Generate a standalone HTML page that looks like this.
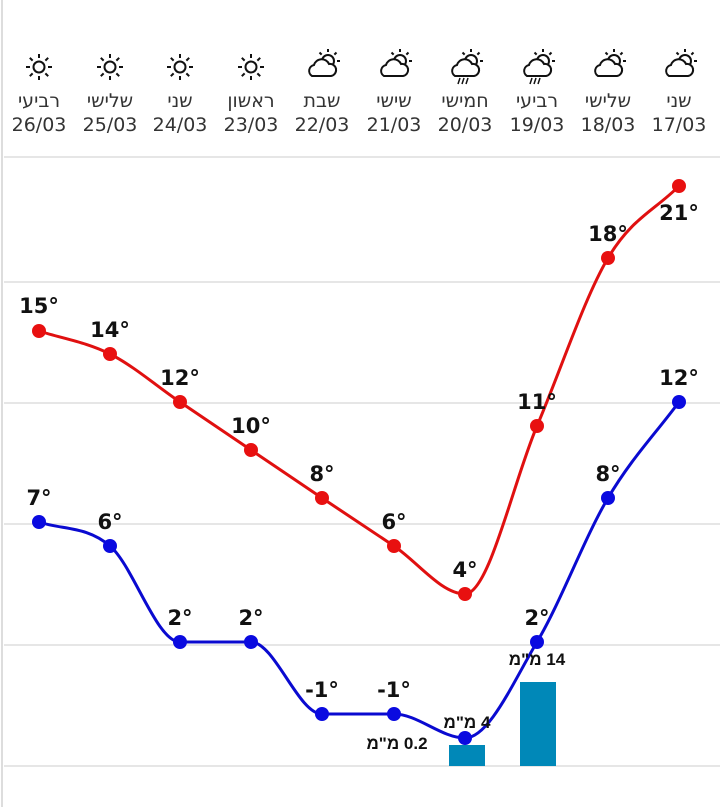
<!DOCTYPE html>
<html><head><meta charset="utf-8"><style>
body{margin:0;width:720px;height:807px;background:#fff;overflow:hidden;font-family:"DejaVu Sans","Liberation Sans",sans-serif;}
svg{position:absolute;left:0;top:0}
.mm{unicode-bidi:bidi-override;direction:ltr;font-family:"Liberation Sans","Noto Sans CJK JP",sans-serif}
</style></head><body>
<svg id="s" width="720" height="807" xmlns="http://www.w3.org/2000/svg">
<line x1="2" y1="0" x2="2" y2="807" stroke="#ddd" stroke-width="2"/>
<g stroke="#e6e6e6" stroke-width="2">
<line x1="4" y1="157" x2="720" y2="157"/><line x1="4" y1="282" x2="720" y2="282"/>
<line x1="4" y1="403" x2="720" y2="403"/><line x1="4" y1="524" x2="720" y2="524"/>
<line x1="4" y1="645" x2="720" y2="645"/><line x1="4" y1="766" x2="720" y2="766"/>
</g>
<rect x="449" y="745" width="36" height="21" fill="#0088b8"/>
<rect x="520" y="682" width="36" height="84" fill="#0088b8"/>
<g id="hdr" font-size="19" fill="#333" text-anchor="middle"></g>
<path id="rp" fill="none" stroke="#e01010" stroke-width="3"/>
<path id="bp" fill="none" stroke="#0a0ad0" stroke-width="3"/>
<g id="dots"></g>
<g id="lbl" font-size="21" font-weight="bold" fill="#111" text-anchor="middle"></g>
<g font-size="17" font-weight="bold" fill="#111" text-anchor="middle">
<text class="mm" x="397" y="749">מ"מ 0.2</text>
<text class="mm" x="467" y="728">מ"מ 4</text>
<text class="mm" x="537" y="665">מ"מ 14</text>
</g>
</svg>
<script>
var X=[39,110,180,251,322,394,465,537,608,679];
var R=[331,354,402,450,498,546,594,426,258,186];
var B=[522,546,642,642,714,714,738,642,498,402];
function mono(xs,ys){var n=xs.length,d=[],m=[];for(var i=0;i<n-1;i++)d.push((ys[i+1]-ys[i])/(xs[i+1]-xs[i]));
m[0]=d[0];m[n-1]=d[n-2];for(i=1;i<n-1;i++){m[i]=(d[i-1]*d[i]<=0)?0:(d[i-1]+d[i])/2;}
for(i=0;i<n-1;i++){if(d[i]==0){m[i]=0;m[i+1]=0;continue;}var a=m[i]/d[i],b=m[i+1]/d[i],t=a*a+b*b;if(t>9){var k=3/Math.sqrt(t);m[i]=k*a*d[i];m[i+1]=k*b*d[i];}}
var p="M"+xs[0]+","+ys[0];for(i=0;i<n-1;i++){var h=(xs[i+1]-xs[i])/3;p+=" C"+(xs[i]+h)+","+(ys[i]+m[i]*h)+" "+(xs[i+1]-h)+","+(ys[i+1]-m[i+1]*h)+" "+xs[i+1]+","+ys[i+1];}return p;}
document.getElementById('rp').setAttribute('d',mono(X,R));
document.getElementById('bp').setAttribute('d',mono(X,B));
var ns="http://www.w3.org/2000/svg",dots=document.getElementById('dots'),lbl=document.getElementById('lbl'),hdr=document.getElementById('hdr');
function el(p,t,a,txt){var e=document.createElementNS(ns,t);for(var k in a)e.setAttribute(k,a[k]);if(txt!=null)e.textContent=txt;p.appendChild(e);return e;}
for(var i=0;i<10;i++){el(dots,'circle',{cx:X[i],cy:R[i],r:7,fill:'#e81010'});el(dots,'circle',{cx:X[i],cy:B[i],r:7,fill:'#0a0ae0'});}
var RL=[[39,313,'15°'],[110,337,'14°'],[180,385,'12°'],[251,433,'10°'],[322,481,'8°'],[394,529,'6°'],[465,577,'4°'],[537,409,'11°'],[608,241,'18°'],[679,220,'21°']];
var BL=[[39,505,'7°'],[110,529,'6°'],[180,625,'2°'],[251,625,'2°'],[322,697,'-1°'],[394,697,'-1°'],[537,625,'2°'],[608,481,'8°'],[679,385,'12°']];
RL.concat(BL).forEach(function(l){el(lbl,'text',{x:l[0],y:l[1]},l[2]);});
var days=['רביעי','שלישי','שני','ראשון','שבת','שישי','חמישי','רביעי','שלישי','שני'];
var dates=['26/03','25/03','24/03','23/03','22/03','21/03','20/03','19/03','18/03','17/03'];
var icon=['s','s','s','s','c','c','r','r','c','c'];
for(i=0;i<10;i++){el(hdr,'text',{x:X[i],y:107},days[i]);el(hdr,'text',{x:X[i],y:131},dates[i]);
var g=el(hdr,'g',{fill:'none',stroke:'#111','stroke-width':'2'});var cx=X[i],cy=67;
if(icon[i]=='s'){el(g,'circle',{cx:cx,cy:cy,r:5.5});for(var a=0;a<8;a++){var an=a*Math.PI/4;el(g,'line',{x1:cx+9*Math.cos(an),y1:cy+9*Math.sin(an),x2:cx+13*Math.cos(an),y2:cy+13*Math.sin(an)});}}
else{var sx=cx+6,sy=cy-6;el(g,'circle',{cx:sx,cy:sy,r:6});for(a=-3;a<2;a++){an=a*Math.PI/4;el(g,'line',{x1:sx+9*Math.cos(an),y1:sy+9*Math.sin(an),x2:sx+12*Math.cos(an),y2:sy+12*Math.sin(an)});}
el(g,'path',{d:'M'+(cx-10)+','+(cy+9)+' a6,6 0 0 1 2,-11 a8,8 0 0 1 15,-1 a6,6 0 0 1 2,12 z',fill:'#fff'});
if(icon[i]=='r'){for(a=0;a<3;a++)el(g,'line',{x1:cx-5+a*4,y1:cy+11,x2:cx-7+a*4,y2:cy+17,'stroke-width':1.5});}}}
</script>
</body></html>
